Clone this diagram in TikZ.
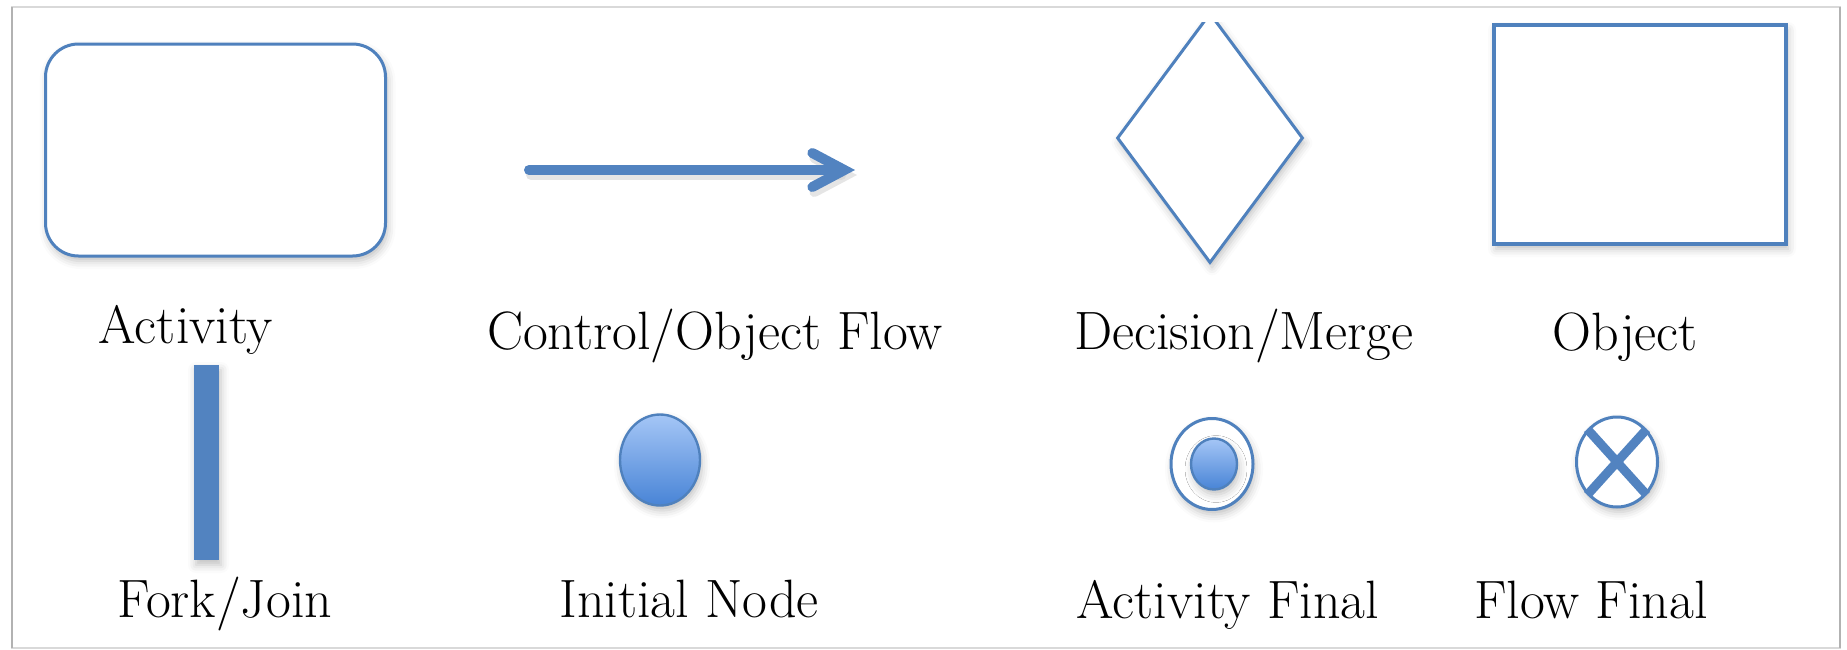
\documentclass[tikz,border=0pt]{standalone}
\usetikzlibrary{shapes.geometric}
\usetikzlibrary{arrows.meta}
\usetikzlibrary{shadows.blur}

\definecolor{umlblue}{RGB}{79,129,189}
\definecolor{umlfill}{RGB}{82,131,192}
\definecolor{dotlight}{RGB}{165,198,246}
\definecolor{dotdark}{RGB}{72,132,214}

\begin{document}
\begin{tikzpicture}[%
    x=0.5pt, y=-0.5pt,
    font=\fontsize{27}{32}\selectfont,
soft/.style={blur shadow={shadow xshift=1pt, shadow yshift=-2.5pt, shadow blur radius=4pt, shadow opacity=25}},
activitynode/.style={rectangle, rounded corners=16.5pt, draw=umlblue, line width=1.5pt, fill=white, minimum width=170pt, minimum height=106pt, soft},
decisionnode/.style={diamond, draw=umlblue, line width=1.5pt, fill=white, inner sep=0pt, minimum width=93pt, minimum height=125pt, soft},
objectnode/.style={rectangle, draw=umlblue, line width=1.8pt, fill=white, minimum width=146pt, minimum height=109.5pt, soft},
barnode/.style={rectangle, fill=umlfill, inner sep=0pt, minimum width=12.5pt, minimum height=97.5pt, soft},
dotnode/.style={ellipse, draw=umlblue, line width=1.2pt, top color=dotlight, bottom color=dotdark, inner sep=0pt, soft},
ringnode/.style={ellipse, draw=umlblue, line width=1.5pt, fill=white, inner sep=0pt, minimum width=41pt, minimum height=45.5pt, soft},
flowline/.style={umlfill, line width=5pt, line cap=round, -{Straight Barb[length=16pt, width=17pt, line cap=round]}},
crossline/.style={umlfill, line width=4.5pt},
legendtext/.style={anchor=base, inner sep=0pt}
]

\useasboundingbox (0,0) rectangle (1847,649);

% page frame
\draw[gray!30, line width=0.6pt] (12,7) rectangle (1840,648);
\draw[gray!60, line width=1pt] (12,7) -- (12,648);
\draw[gray!60, line width=1pt] (1840,7) -- (1840,648);

% top row
\node[activitynode]      (activity)  at (215.5,150) {};
\node[legendtext]        (activitytext) at (186,343) {Activity};

\coordinate (flowstart) at (529,170);
\coordinate (flowend)   at (855,170);
\draw[flowline, gray!40, opacity=0.5] ([shift={(2,5)}]flowstart) -- ([shift={(2,5)}]flowend);
\draw[flowline] (flowstart) -- (flowend);
\node[legendtext]        (flowtext) at (715,349) {Control/Object Flow};

\begin{scope}
\clip (0,22) rectangle (1847,649);
\node[decisionnode]      (decision)  at (1210,138) {};
\end{scope}
\node[legendtext]        (decisiontext) at (1244,349) {Decision/Merge};

\node[objectnode]        (object)    at (1640,134.5) {};
\node[legendtext]        (objecttext) at (1625,350) {Object};

% bottom row
\node[barnode]           (fork)      at (206.5,462.5) {};
\node[legendtext]        (forktext) at (225,617) {Fork/Join};

\node[dotnode, minimum width=40pt, minimum height=45.5pt] (initial) at (660,460) {};
\node[legendtext]        (initialtext) at (689,617) {Initial Node};

\node[ringnode]          (actfinal)  at (1212,464) {};
\node[dotnode, minimum width=23pt, minimum height=25.5pt] (actfinaldot) at (1214,464) {};
\node[legendtext]        (actfinaltext) at (1228,618) {Activity Final};

\node[ringnode, minimum width=40.5pt, minimum height=45pt] (flowfinal) at (1617,462) {};
\draw[crossline] (flowfinal.north west) -- (flowfinal.south east);
\draw[crossline] (flowfinal.north east) -- (flowfinal.south west);
\node[legendtext]        (flowfinaltext) at (1591,618) {Flow Final};

\end{tikzpicture}
\end{document}
